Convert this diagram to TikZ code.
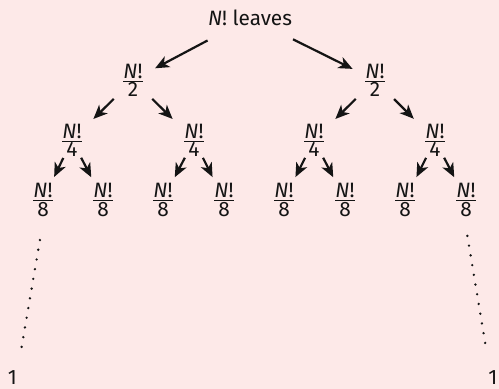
\documentclass[tikz,border=0pt]{standalone}
\usepackage{amsmath}
\usepackage{fontspec}
\setmainfont{Fira Sans}
\usetikzlibrary{arrows.meta}
\definecolor{paper}{HTML}{FDE9E8}
\definecolor{ink}{HTML}{141414}
\newcommand{\nodefont}{\fontsize{10.4}{12}\selectfont}
\newcommand{\Nover}[1]{$\frac{\text{\nodefont\itshape N\upshape !}}{\text{\nodefont #1}}$}

\begin{document}
\begin{tikzpicture}[x=0.5pt,y=-0.5pt,every node/.style={font=\nodefont,text=ink},
    halve/.style={-{Stealth[length=7pt,width=6pt,inset=2pt]},line width=1.1pt,ink},
    trail/.style={ink,line width=1.3pt,line cap=round,dash pattern=on 0pt off 4.93pt}]
  % page
  \fill[paper] (0,0) rectangle (499,389);
  \useasboundingbox (0,0) rectangle (499,389);
  % the tree, level by level
  \node (root) at (250,18) {\textit{N}! leaves};
  \node (h1) at (133,80) {\Nover{2}};
  \node (h2) at (375,80) {\Nover{2}};
  \foreach \i/\x in {1/72,2/194,3/314,4/435}
    \node (q\i) at (\x,140) {\Nover{4}};
  \foreach \i/\x in {1/43,2/103,3/163,4/224,5/284,6/345,7/405,8/466}
    \node (e\i) at (\x,200) {\Nover{8}};
  \node (onel) at (12.5,378) {1};
  \node (oner) at (493,378) {1};
  % halving arrows
  \foreach \a/\b in {root/h1,root/h2}
    \draw[halve,shorten <=24pt,shorten >=12.5pt] (\a.center) -- (\b.center);
  \foreach \a/\b in {h1/q1,h1/q2,h2/q3,h2/q4}
    \draw[halve,shorten <=13.5pt,shorten >=15pt] (\a.center) -- (\b.center);
  \foreach \a/\b in {q1/e1,q1/e2,q2/e3,q2/e4,q3/e5,q3/e6,q4/e7,q4/e8}
    \draw[halve,shorten <=10pt,shorten >=12.8pt] (\a.center) -- (\b.center);
  % down to single leaves
  \draw[trail,shorten <=20.3pt,shorten >=15.6pt] ([xshift=1.9pt]e1.center) -- ([xshift=1.9pt]onel.center);
  \draw[trail,shorten <=18.2pt,shorten >=17.6pt] ([xshift=-2.3pt]e8.center) -- ([xshift=-1pt]oner.center);
\end{tikzpicture}
\end{document}
